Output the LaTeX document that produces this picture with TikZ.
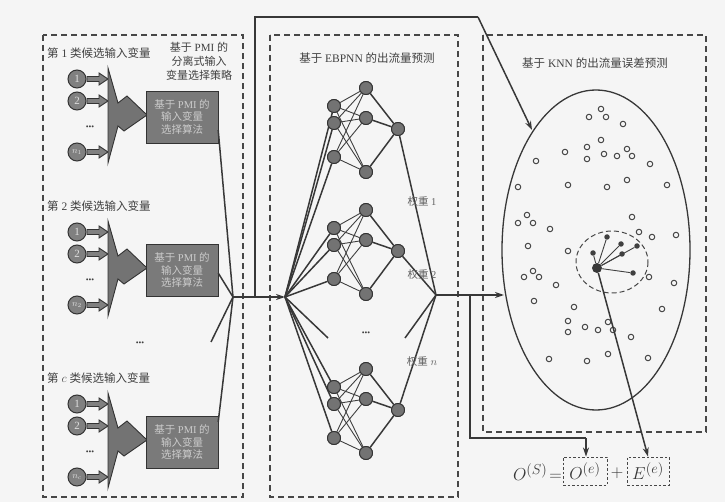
\documentclass[tikz,border=0pt]{standalone}
\usepackage{fontspec}
\setmainfont{Liberation Serif}
\newfontfamily\zhfont{Noto Sans CJK SC}
\newcommand\zh[1]{{\zhfont #1}}
\usetikzlibrary{arrows.meta,calc,shapes.geometric}
\begin{document}
\begin{tikzpicture}[x=1pt,y=-1pt,
  frame/.style={draw=black!72, dash pattern=on 6pt off 4pt, line width=1.1pt},
  wire/.style={draw=black!78, line width=1.5pt},
  thin wire/.style={draw=black!75, line width=0.9pt},
  arr/.style={-{Stealth[length=9pt,width=6pt]}},
  neuron/.style={circle, draw=black!80, fill=black!55, minimum size=13pt, inner sep=0pt, line width=0.9pt},
  varc/.style={circle, draw=black!80, fill=black!50, minimum size=18pt, inner sep=0pt, line width=1pt, text=black!12, font=\fontsize{11}{11}\selectfont},
  selbox/.style={draw=black!80, fill=black!52, minimum width=72pt, minimum height=52pt, align=center, inner sep=1pt,
                 font=\fontsize{10.5}{12.5}\selectfont, text=black!20},
  lbl/.style={text=black!75, font=\fontsize{11.5}{14}\selectfont, inner sep=0pt},
  wlbl/.style={text=black!62, font=\fontsize{10.5}{12}\selectfont, inner sep=0pt},
  dots/.style={text=black!75, font=\fontsize{8}{8}\selectfont, inner sep=0pt},
  opt/.style={circle, draw=black!72, line width=1pt, minimum size=5.5pt, inner sep=0pt},
  nbr/.style={circle, fill=black!75, minimum size=5.5pt, inner sep=0pt},
  eqbox/.style={draw=black!72, dash pattern=on 2.5pt off 2pt, line width=0.9pt, minimum height=28pt, inner sep=2pt}]

\useasboundingbox (0,0) rectangle (725,502);
\fill[black!4] (0,0) rectangle (725,502);

% ---- the three dashed frames ----
\draw[frame] (43,35) rectangle (243,497);
\draw[frame] (270,35) rectangle (458,497);
\draw[frame] (483,35) rectangle (706,432);

% ---- candidate input variables and PMI selection ----
\node[lbl, align=center, font=\fontsize{11}{14}\selectfont] (strat) at (199,61) {\zh{基于} PMI \zh{的}\\\zh{分离式输入}\\\zh{变量选择策略}};

\foreach \k/\off/\last in {1/0/{$n_1$}, 2/153/{$n_2$}, 3/325/{$n_c$}} {
  \begin{scope}[yshift=-\off pt]
    \ifnum\k=3
      \node[lbl, anchor=west] (cat\k) at (47,53) {\zh{第} $c$ \zh{类候选输入变量}};
    \else
      \node[lbl, anchor=west] (cat\k) at (47,53) {\zh{第} \k\ \zh{类候选输入变量}};
    \fi
    \node[varc] (v\k a) at (77,79) {1};
    \node[varc] (v\k b) at (77,101) {2};
    \node[dots] (v\k d) at (90,128) {\textbullet\textbullet\textbullet};
    \node[varc, font=\fontsize{9}{9}\selectfont] (v\k n) at (77,152) {\last};
    % small block arrows into the merging funnel
    \foreach \y in {79,101,152}
      \filldraw[draw=black!80, fill=black!50, line width=0.9pt]
        (87,\y-2.5) -- (99,\y-2.5) -- (99,\y-6) -- (108,\y) -- (99,\y+6) -- (99,\y+2.5) -- (87,\y+2.5) -- cycle;
    % merging funnel arrow
    \filldraw[draw=black!80, fill=black!55, line width=0.9pt]
      (108,68) -- (118,103) -- (127,96) -- (147,115) -- (124,131) -- (118,126) -- (108,163) -- cycle;
    \node[selbox] (sel\k) at (182,117) {\zh{基于} PMI \zh{的}\\\zh{输入变量}\\\zh{选择算法}};
  \end{scope}
}
\node[dots] (gapdots) at (140,344) {\textbullet\textbullet\textbullet};

% ---- merge into the network ----
\coordinate (J) at (233,297);
\coordinate (T) at (255,297);
\coordinate (Ttop) at (255,17);
\coordinate (Tturn) at (478,17);
\coordinate (L) at (285,297);
\coordinate (Jd) at (211,342);
\draw[wire] (sel1.east |- 0,130) -- (J);
\draw[wire] (sel2.east |- 0,273) -- (J);
\draw[wire] (sel3.east |- 0,422) -- (J);
\draw[wire] (J) -- (Jd);
\draw[wire] (J) -- (T);
\draw[wire, arr] (T) -- (L);

% ---- EBPNN ----
\node[lbl] (nnt) at (367,58) {\zh{基于} EBPNN \zh{的出流量预测}};
\coordinate (R) at (436,295);
\foreach \b/\off in {1/0, 2/122, 3/281} {
  \begin{scope}[yshift=-\off pt]
    \node[neuron] (i\b1) at (334,106) {};
    \node[neuron] (i\b2) at (334,123) {};
    \node[neuron] (i\b3) at (334,157) {};
    \node[neuron] (h\b1) at (366,88) {};
    \node[neuron] (h\b2) at (366,118) {};
    \node[neuron] (h\b3) at (366,172) {};
    \node[neuron] (o\b) at (398,129) {};
  \end{scope}
  \foreach \i in {1,2,3} {
    \draw[wire] (L) -- (i\b\i);
    \draw[wire] (h\b\i) -- (o\b);
    \foreach \j in {1,2,3}
      \draw[thin wire] (i\b\i) -- (h\b\j);
  }
  \draw[wire] (o\b) -- (R);
}
% redraw neurons on top of the wires
\foreach \b/\off in {1/0, 2/122, 3/281} {
  \begin{scope}[yshift=-\off pt]
    \foreach \p in {(334,106),(334,123),(334,157),(366,88),(366,118),(366,172),(398,129)}
      \node[neuron] at \p {};
  \end{scope}
}
\coordinate (Ld) at (328,338);
\coordinate (Rd) at (405,338);
\draw[wire] (L) -- (Ld);
\draw[wire] (R) -- (Rd);
\node[dots] (nndots) at (366,334) {\textbullet\textbullet\textbullet};
\node[wlbl] (w1) at (422,202) {\zh{权重} 1};
\node[wlbl] (w2) at (422,275) {\zh{权重} 2};
\node[wlbl] (wn) at (422,362) {\zh{权重} $n$};

% ---- KNN ----
\node[lbl] (knt) at (595,63) {\zh{基于} KNN \zh{的出流量误差预测}};
\node[ellipse, draw=black!78, line width=1.3pt, minimum width=188pt, minimum height=320pt, inner sep=0pt] (ell) at (596,250) {};
\coordinate (eTop) at (532,130);
\coordinate (eIn) at (504,295);
\draw[wire] (T) -- (Ttop) -- (Tturn);
\draw[wire, arr] (Tturn) -- (eTop);
\coordinate (B) at (470,295);
\coordinate (Bdn) at (470,438);
\coordinate (Bturn) at (586,438);
\draw[wire, arr] (R) -- (eIn);
\draw[wire] (B) -- (Bdn) -- (Bturn);

% samples
\foreach \p [count=\n] in {(601,109),(589,117),(606,117),(623,124),(601,140),(587,147),(627,149),(565,152),
  (604,154),(617,156),(632,156),(587,159),(536,161),(650,164),(627,180),(568,185),(607,187),(518,187),
  (667,185),(527,215),(518,223),(533,223),(632,217),(550,229),(639,232),(652,237),(676,235),(528,246),
  (568,251),(533,271),(524,277),(539,277),(556,285),(649,277),(674,283),(534,301),(574,307),(662,309),
  (568,321),(608,322),(568,332),(585,327),(598,330),(613,330),(631,337),(549,359),(587,361),(608,354),(648,358)}
  \node[opt] (s\n) at \p {};

% nearest neighbours of the query point
\draw[black!72, line width=1pt, dash pattern=on 5pt off 3pt] (612,262) ellipse [x radius=36, y radius=31];
\node[circle, fill=black!78, minimum size=10pt, inner sep=0pt] (q) at (597,268) {};
\foreach \p [count=\n] in {(607,237),(621,244),(637,246),(593,253),(622,254),(633,273)} {
  \node[nbr] (k\n) at \p {};
  \draw[black!75, line width=0.9pt] (q) -- (k\n);
}

% ---- output equation ----
\node[anchor=east, inner sep=0pt, font=\fontsize{19}{19}\selectfont, text=black!78] (lhs) at (562,472) {$O^{(S)}\!=$};
\node[eqbox, minimum width=44pt, font=\fontsize{19}{19}\selectfont, text=black!78] (Ob) at (585,471) {$O^{(e)}$};
\node[inner sep=0pt, font=\fontsize{17}{17}\selectfont, text=black!78] (plus) at (617,473) {$+$};
\node[eqbox, minimum width=42pt, font=\fontsize{19}{19}\selectfont, text=black!78] (Eb) at (648,471) {$E^{(e)}$};
\draw[wire, arr] (Bturn) -- (Ob.north -| Bturn);
\draw[wire, arr] (q) -- (Eb.north);
\end{tikzpicture}
\end{document}
